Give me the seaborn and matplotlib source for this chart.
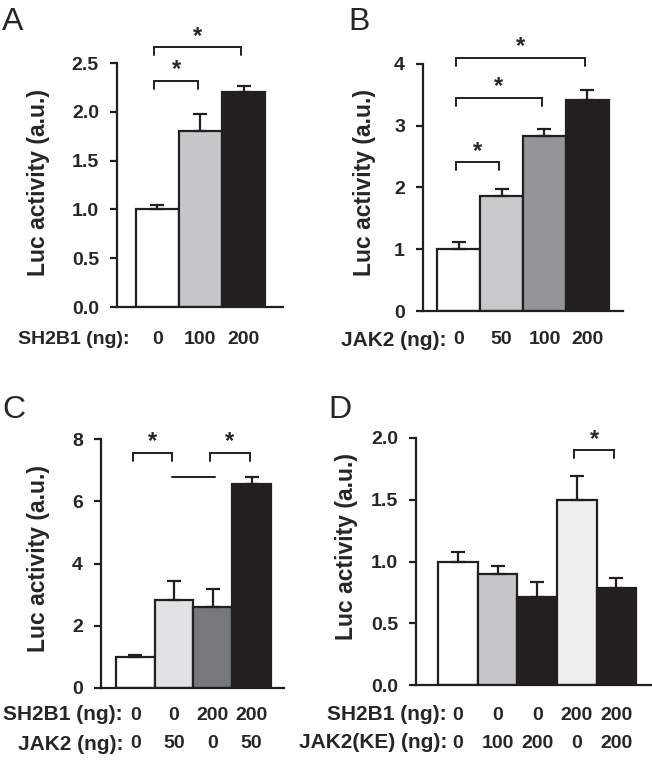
import matplotlib
matplotlib.use('Agg')
import matplotlib.pyplot as plt
import matplotlib.transforms as mtransforms
import seaborn as sns
import numpy as np
import pandas as pd

# Panel A: SH2B1 dose response
a_sh2b1 = ['0', '100', '200']
a_mean = [1.0, 1.8, 2.2]
a_err = [0.045, 0.18, 0.06]
a_colors = ['#ffffff', '#c6c7c9', '#231f20']

# Panel B: JAK2 dose response
b_jak2 = ['0', '50', '100', '200']
b_mean = [1.0, 1.87, 2.83, 3.41]
b_err = [0.11, 0.11, 0.12, 0.17]
b_colors = ['#ffffff', '#c8c9cb', '#939598', '#231f20']

# Panel C: SH2B1 + JAK2
c_sh2b1 = ['0', '0', '200', '200']
c_jak2 = ['0', '50', '0', '50']
c_mean = [1.0, 2.82, 2.6, 6.55]
c_err = [0.07, 0.62, 0.58, 0.23]
c_colors = ['#ffffff', '#e1e2e4', '#77787b', '#231f20']

# Panel D: SH2B1 + JAK2(KE)
d_sh2b1 = ['0', '0', '0', '200', '200']
d_jak2ke = ['0', '100', '200', '0', '200']
d_mean = [1.0, 0.9, 0.71, 1.5, 0.785]
d_err = [0.08, 0.065, 0.12, 0.19, 0.085]
d_colors = ['#ffffff', '#c6c7c9', '#231f20', '#eeeeef', '#231f20']

# significance brackets: (first bar, second bar, bracket height)
a_sig = [(0, 1, 2.32), (0, 2, 2.66)]
b_sig = [(0, 1, 2.41), (0, 2, 3.45), (0, 3, 4.10)]
c_sig = [(0, 1, 7.55), (2, 3, 7.55)]
d_sig = [(3, 4, 1.90)]

W, H = 652, 765
sns.set_style('ticks')
plt.rcParams['font.family'] = ['Liberation Sans', 'DejaVu Sans']
plt.rcParams['font.weight'] = 'bold'

fig = plt.figure(figsize=(W / 100, H / 100), dpi=100)


def add_axes_px(left, right, bottom, top):
    return fig.add_axes([left / W, 1 - bottom / H, (right - left) / W, (bottom - top) / H])


def draw_panel(ax, means, errs, colors, yticks, fmt, xlim, sig, label_px):
    n = len(means)
    df = pd.DataFrame({'bar': [f'b{i}' for i in range(n)], 'value': means})
    sns.barplot(data=df, x='bar', y='value', hue='bar', palette=colors, saturation=1,
                legend=False, width=1.0, edgecolor='#231f20', linewidth=1.6,
                errorbar=None, ax=ax)
    ax.errorbar(np.arange(n), means, yerr=[np.zeros(n), errs], fmt='none',
                ecolor='#231f20', elinewidth=1.6, capsize=5, capthick=1.6, zorder=1)
    ax.set_xlim(*xlim)
    ax.set_ylim(yticks[0], yticks[-1])
    ax.set_yticks(yticks)
    ax.set_yticklabels([fmt.format(t) for t in yticks], fontsize=14, fontweight='bold')
    ax.set_xticks([])
    ax.set_xlabel('')
    ax.set_ylabel('Luc activity (a.u.)', fontsize=16.5, fontweight='bold')
    ax.yaxis.set_label_coords(label_px[0] / W, 1 - label_px[1] / H, transform=fig.transFigure)
    sns.despine(ax=ax)
    for s in ['left', 'bottom']:
        ax.spines[s].set_linewidth(1.6)
        ax.spines[s].set_color('#231f20')
    ax.tick_params(axis='y', length=5, width=1.6, pad=8, color='#231f20')
    ax.set_facecolor('none')

    # bracket leg length ~8 px in data units
    h_px = ax.get_position().height * H
    leg = 8 * yticks[-1] / h_px
    star_off = 11 * yticks[-1] / h_px
    for i, j, y in sig:
        x0, x1 = i - 0.07, j - 0.05
        ax.plot([x0, x0, x1, x1], [y - leg, y, y, y - leg], color='#231f20',
                lw=1.4, clip_on=False, solid_joinstyle='miter')
        ax.text((x0 + x1) / 2, y + star_off, '*', ha='center', va='center',
                fontsize=17, fontweight='bold', clip_on=False)


def row_labels(ax, title, values, title_right_px, y_px, title_size=14):
    trans = mtransforms.blended_transform_factory(ax.transData, fig.transFigure)
    for i, v in enumerate(values):
        ax.text(i, 1 - y_px / H, v, transform=trans, ha='center', va='center',
                fontsize=14, fontweight='bold', clip_on=False)
    fig.text(title_right_px / W, 1 - y_px / H, title, ha='right', va='center',
             fontsize=title_size, fontweight='bold')


# A
ax_a = add_axes_px(117, 283, 307, 63)
draw_panel(ax_a, a_mean, a_err, a_colors, [0, 0.5, 1.0, 1.5, 2.0, 2.5], '{:.1f}',
           (-0.93, 2.91), a_sig, (50, 182))
row_labels(ax_a, 'SH2B1 (ng):', a_sh2b1, 129, 340)

# B
ax_b = add_axes_px(423, 623, 311, 64)
draw_panel(ax_b, b_mean, b_err, b_colors, [0, 1, 2, 3, 4], '{:.0f}',
           (-0.83, 3.83), b_sig, (376, 182))
row_labels(ax_b, 'JAK2 (ng):', b_jak2, 446, 340, 15)

# C
ax_c = add_axes_px(101, 284, 688, 439)
draw_panel(ax_c, c_mean, c_err, c_colors, [0, 2, 4, 6, 8], '{:.0f}',
           (-0.89, 3.84), c_sig, (50, 559))
row_labels(ax_c, 'SH2B1 (ng):', c_sh2b1, 123, 715, 15)
row_labels(ax_c, 'JAK2 (ng):', c_jak2, 123, 744, 15)
# bar line connecting the two single-transfection groups
ax_c.plot([0.95, 2.05], [6.78, 6.78], color='#231f20', lw=1.4, clip_on=False)

# D
ax_d = add_axes_px(416, 652, 685, 438)
draw_panel(ax_d, d_mean, d_err, d_colors, [0, 0.5, 1.0, 1.5, 2.0], '{:.1f}',
           (-1.06, 4.9), d_sig, (358, 547))
row_labels(ax_d, 'SH2B1 (ng):', d_sh2b1, 447, 715, 15)
row_labels(ax_d, 'JAK2(KE) (ng):', d_jak2ke, 447, 743, 15)

# panel letters
for letter, x, y in [('A', 2, 30), ('B', 348, 30), ('C', 2, 418), ('D', 328, 418)]:
    fig.text(x / W, 1 - y / H, letter, fontsize=23, fontweight='normal',
             ha='left', va='baseline')

fig.savefig('out.png', dpi=100)
